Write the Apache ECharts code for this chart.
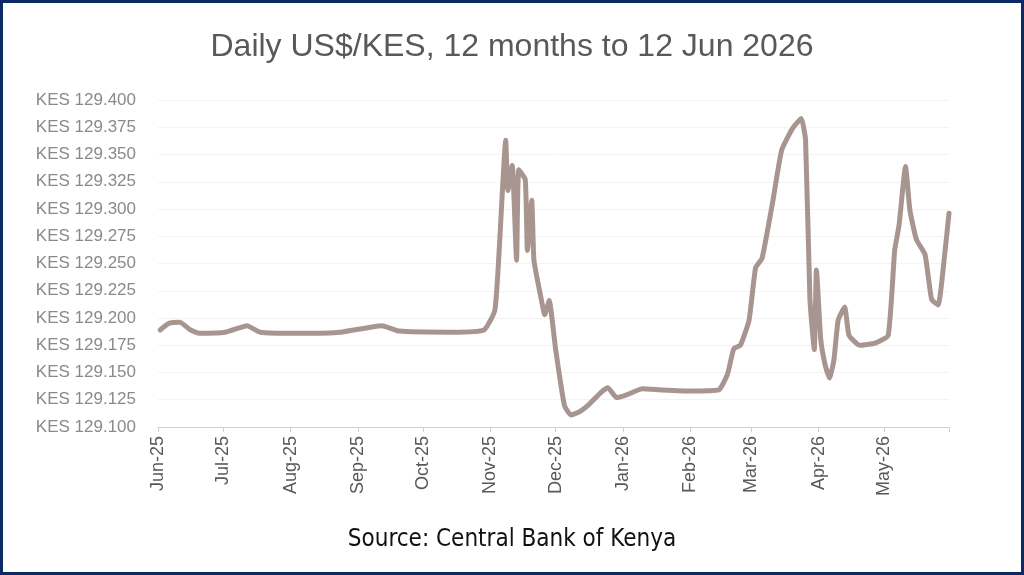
<!DOCTYPE html>
<html>
<head>
<meta charset="utf-8">
<script src="https://cdn.jsdelivr.net/npm/echarts@6/dist/echarts.min.js"></script>
<style>
  html, body { margin: 0; padding: 0; background: #fff; }
  #chart { width: 1024px; height: 575px; }
</style>
</head>
<body>
<div id="chart"></div>
<script>
// daily US$/KES (one point per visible turn of the line)
const dates = [
  '2025-06-02', '2025-06-06', '2025-06-11', '2025-06-16', '2025-06-20', '2025-07-02',
  '2025-07-12', '2025-07-18', '2025-08-05', '2025-08-24', '2025-09-12', '2025-09-20',
  '2025-10-14', '2025-10-29', '2025-11-03', '2025-11-05', '2025-11-08', '2025-11-09',
  '2025-11-11', '2025-11-13', '2025-11-14', '2025-11-17', '2025-11-18', '2025-11-20',
  '2025-11-21', '2025-11-24', '2025-11-26', '2025-11-28', '2025-12-01', '2025-12-05',
  '2025-12-08', '2025-12-12', '2025-12-16', '2025-12-22', '2025-12-25', '2025-12-29',
  '2026-01-02', '2026-01-10', '2026-01-19', '2026-02-01', '2026-02-14', '2026-02-18',
  '2026-02-21', '2026-02-24', '2026-02-28', '2026-03-03', '2026-03-06', '2026-03-11',
  '2026-03-15', '2026-03-20', '2026-03-24', '2026-03-26', '2026-03-28', '2026-03-30',
  '2026-03-31', '2026-04-02', '2026-04-04', '2026-04-06', '2026-04-08', '2026-04-10',
  '2026-04-13', '2026-04-15', '2026-04-20', '2026-04-27', '2026-05-03', '2026-05-06',
  '2026-05-08', '2026-05-11', '2026-05-13', '2026-05-16', '2026-05-20', '2026-05-23',
  '2026-05-26', '2026-05-29', '2026-05-31'
]
const rates = [
  129.189, 129.195, 129.196, 129.189, 129.186, 129.187,
  129.193, 129.187, 129.186, 129.187, 129.193, 129.188,
  129.187, 129.189, 129.207, 129.262, 129.363, 129.317,
  129.340, 129.253, 129.336, 129.327, 129.262, 129.308,
  129.253, 129.221, 129.203, 129.216, 129.171, 129.120,
  129.111, 129.114, 129.120, 129.132, 129.136, 129.127,
  129.129, 129.135, 129.134, 129.133, 129.134, 129.148,
  129.172, 129.175, 129.198, 129.246, 129.255, 129.308,
  129.354, 129.374, 129.383, 129.363, 129.217, 129.171,
  129.244, 129.180, 129.157, 129.145, 129.161, 129.198,
  129.210, 129.184, 129.175, 129.177, 129.184, 129.262,
  129.285, 129.339, 129.299, 129.272, 129.258, 129.217,
  129.212, 129.258, 129.296
]

// month ticks on the date axis
const tickDates = [
  '2025-06-01', '2025-07-01', '2025-08-01', '2025-09-01', '2025-10-01', '2025-11-01',
  '2025-12-01', '2026-01-01', '2026-02-01', '2026-03-01', '2026-04-01', '2026-05-01'
]
const tickLabels = [
  'Jun-25', 'Jul-25', 'Aug-25', 'Sep-25', 'Oct-25', 'Nov-25',
  'Dec-25', 'Jan-26', 'Feb-26', 'Mar-26', 'Apr-26', 'May-26'
]
const axisStart = '2025-06-01'
const axisEnd = '2026-05-31'

function toTime (s) {
  return new Date(s + 'T00:00:00').getTime()
}

let tickTimes = tickDates.map(toTime)
let seriesData = dates.map((d, i) => [toTime(d), rates[i]])

let chart = echarts.init(document.getElementById('chart'))

let option = {
  animation: false,
  title: [
    {
      text: 'Daily US$/KES, 12 months to 12 Jun 2026',
      left: 'center',
      top: 26,
      textStyle: {
        fontFamily: 'Liberation Sans, Arial, sans-serif',
        fontWeight: 'normal',
        fontSize: 32,
        color: '#595959'
      }
    },
    {
      text: 'Source: Central Bank of Kenya',
      left: 'center',
      top: 523,
      textStyle: {
        fontFamily: 'Liberation Sans Narrow, DejaVu Sans Condensed, sans-serif',
        fontWeight: 'normal',
        fontSize: 24,
        color: '#111'
      }
    }
  ],
  graphic: [
    {
      type: 'rect',
      shape: { x: 1.5, y: 1.5, width: 1021, height: 572 },
      style: { fill: 'none', stroke: '#0c2b66', lineWidth: 3 },
      z: 100
    }
  ],
  grid: {
    left: 158,
    right: 75,
    top: 100,
    bottom: 148
  },
  // dates held as timestamps on a value axis so the month ticks can be placed exactly
  xAxis: {
    type: 'value',
    min: toTime(axisStart),
    max: toTime(axisEnd),
    axisLine: { show: true, lineStyle: { color: '#d0d0d0', width: 1 } },
    axisTick: {
      show: true,
      length: 5,
      lineStyle: { color: '#d0d0d0' },
      customValues: tickTimes.concat([toTime(axisEnd)])
    },
    axisLabel: {
      rotate: 90,
      margin: 9,
      fontFamily: 'Liberation Sans, Arial, sans-serif',
      fontSize: 18,
      color: '#595959',
      customValues: tickTimes,
      formatter: function (value) {
        let i = tickTimes.indexOf(value)
        return i >= 0 ? tickLabels[i] : ''
      }
    },
    splitLine: { show: false }
  },
  yAxis: {
    type: 'value',
    min: 129.1,
    max: 129.4,
    interval: 0.025,
    axisLine: { show: false },
    axisTick: { show: false },
    axisLabel: {
      margin: 22,
      fontFamily: 'Liberation Sans, Arial, sans-serif',
      fontSize: 17,
      color: '#8a8a8a',
      formatter: function (v) {
        return 'KES ' + v.toFixed(3)
      }
    },
    splitLine: { show: true, lineStyle: { color: '#f3f3f3', width: 1 } }
  },
  series: [
    {
      type: 'line',
      data: seriesData,
      showSymbol: false,
      smooth: 0.15,
      lineStyle: { color: '#a8958f', width: 5, cap: 'round', join: 'round' }
    }
  ]
}

chart.setOption(option)
</script>
</body>
</html>
